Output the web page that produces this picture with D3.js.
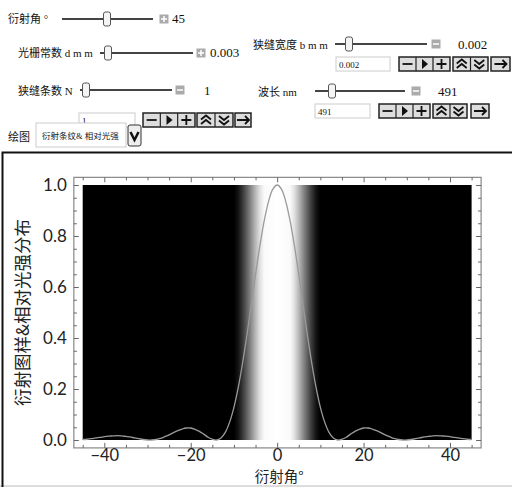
<!DOCTYPE html>
<html>
<head>
<meta charset="utf-8">
<script src="https://cdn.jsdelivr.net/npm/d3@7"></script>
<style>
  body { margin: 0; background: #fff; }
  svg { display: block; }
  .ctl { font-family: "Liberation Serif", "Noto Sans CJK SC", serif; font-size: 11px; fill: #111; }
  .tick text { font-family: Lato, "Open Sans", sans-serif; font-size: 17px; fill: #222; }
  .tick line { stroke: #666; }
</style>
</head>
<body>
<div id="chart"></div>
<script>
// diffraction angle (deg) and relative intensity
var angles = [-45,-44,-43,-42,-41,-40,-39,-38,-37,-36,-35,-34,-33,-32,-31,-30,-29,-28,-27,-26,-25,-24,-23,-22,-21,-20,-19,-18,-17,-16,-15,-14,-13,-12,-11,-10,-9,-8,-7,-6,-5,-4,-3,-2,-1,
  0,1,2,3,4,5,6,7,8,9,10,11,12,13,14,15,16,17,18,19,20,21,22,23,24,25,26,27,28,29,30,31,32,33,34,35,36,37,38,39,40,41,42,43,44,45];
var intensity = [0.002,0.003,0.005,0.008,0.010,0.013,0.015,0.016,0.017,0.016,0.014,0.012,0.008,0.005,0.002,0.000,0.000,0.002,0.006,0.013,0.020,0.029,0.037,0.043,0.047,0.047,0.042,0.034,0.023,0.011,0.003,0.000,0.008,0.030,0.070,0.128,0.206,0.302,0.411,0.529,0.649,0.761,0.859,0.935,0.984,
  1.000,0.984,0.935,0.859,0.761,0.649,0.529,0.411,0.302,0.206,0.128,0.070,0.030,0.008,0.000,0.003,0.011,0.023,0.034,0.042,0.047,0.047,0.043,0.037,0.029,0.020,0.013,0.006,0.002,0.000,0.000,0.002,0.005,0.008,0.012,0.014,0.016,0.017,0.016,0.015,0.013,0.010,0.008,0.005,0.003,0.002];

// brightness of the fringe pattern behind the curve
var bandAngles = [-45,-10,-9,-8,-7,-6,-5,-4,-3,0,3,4,5,6,7,8,9,10,45];
var bandGray   = [0,0,0.08,0.22,0.38,0.55,0.72,0.88,0.98,1,0.98,0.88,0.72,0.55,0.38,0.22,0.08,0,0];

var xMajor = [-40,-20,0,20,40];
var yMajor = [0,0.2,0.4,0.6,0.8,1.0];

var W = 512, H = 487;
var svg = d3.select("#chart").append("svg").attr("width", W).attr("height", H);
svg.append("rect").attr("width", W).attr("height", H).attr("fill", "#fff");

// ---------- control panel ----------
var ctl = svg.append("g");

function label(x, y, t, size) {
  ctl.append("text").attr("class", "ctl").attr("x", x).attr("y", y)
    .style("font-size", (size || 11) + "px").text(t);
}
function slider(x1, x2, y, tx) {
  ctl.append("line").attr("x1", x1).attr("x2", x2).attr("y1", y).attr("y2", y)
    .attr("stroke", "#444").attr("stroke-width", 1.8);
  ctl.append("rect").attr("x", tx - 3.5).attr("y", y - 7).attr("width", 7).attr("height", 14)
    .attr("rx", 2).attr("fill", "#f4f4f4").attr("stroke", "#555");
}
function icon(cx, cy, plus) {
  ctl.append("rect").attr("x", cx - 4.5).attr("y", cy - 4.5).attr("width", 9).attr("height", 9)
    .attr("fill", "#aaa");
  ctl.append("line").attr("x1", cx - 3).attr("x2", cx + 3).attr("y1", cy).attr("y2", cy)
    .attr("stroke", "#fff").attr("stroke-width", 1.5);
  if (plus) ctl.append("line").attr("x1", cx).attr("x2", cx).attr("y1", cy - 3).attr("y2", cy + 3)
    .attr("stroke", "#fff").attr("stroke-width", 1.5);
}
function inputBox(x1, x2, y, t) {
  ctl.append("rect").attr("x", x1).attr("y", y).attr("width", x2 - x1).attr("height", 14)
    .attr("fill", "#fff").attr("stroke", "#ccc");
  label(x1 + 3, y + 10.5, t, 9);
}
function glyph(g, kind, cx, cy) {
  var p = d3.path();
  if (kind == "minus") { p.moveTo(cx - 5, cy); p.lineTo(cx + 5, cy); }
  if (kind == "plus") { p.moveTo(cx - 5, cy); p.lineTo(cx + 5, cy); p.moveTo(cx, cy - 5); p.lineTo(cx, cy + 5); }
  if (kind == "up") { p.moveTo(cx - 5, cy - 0.5); p.lineTo(cx, cy - 4.5); p.lineTo(cx + 5, cy - 0.5);
                      p.moveTo(cx - 5, cy + 4); p.lineTo(cx, cy); p.lineTo(cx + 5, cy + 4); }
  if (kind == "down") { p.moveTo(cx - 5, cy - 4); p.lineTo(cx, cy); p.lineTo(cx + 5, cy - 4);
                        p.moveTo(cx - 5, cy + 0.5); p.lineTo(cx, cy + 4.5); p.lineTo(cx + 5, cy + 0.5); }
  if (kind == "arrow") { p.moveTo(cx - 6, cy); p.lineTo(cx + 6, cy); p.moveTo(cx + 2, cy - 4); p.lineTo(cx + 6, cy); p.lineTo(cx + 2, cy + 4); }
  if (kind == "play") {
    g.append("path").attr("d", "M" + (cx - 2.5) + "," + (cy - 5) + "L" + (cx + 3.5) + "," + cy + "L" + (cx - 2.5) + "," + (cy + 5) + "Z")
      .attr("fill", "#111");
    return;
  }
  g.append("path").attr("d", p.toString()).attr("fill", "none").attr("stroke", "#111").attr("stroke-width", 1.8);
}
function btnGroup(x1, x2, y, kinds) {
  var w = (x2 - x1) / kinds.length;
  ctl.append("rect").attr("x", x1).attr("y", y).attr("width", x2 - x1).attr("height", 14)
    .attr("fill", "#ddd").attr("stroke", "#222").attr("stroke-width", 1.5);
  kinds.forEach(function(k, i) {
    if (i > 0) ctl.append("line").attr("x1", x1 + i * w).attr("x2", x1 + i * w)
      .attr("y1", y).attr("y2", y + 14).attr("stroke", "#222").attr("stroke-width", 1.2);
    glyph(ctl, k, x1 + i * w + w / 2, y + 7);
  });
}
function buttons(xs, y) {
  btnGroup(xs[0], xs[1], y, ["minus", "play", "plus"]);
  btnGroup(xs[2], xs[3], y, ["up", "down"]);
  btnGroup(xs[4], xs[5], y, ["arrow"]);
}

label(8, 23, "衍射角  °");
slider(62, 153, 19, 107);
icon(164, 19, true);
label(172, 23, "45", 13);

label(18, 57, "光栅常数 d m m");
slider(100, 193, 53, 108);
icon(201, 53, true);
label(210, 57, "0.003", 13);

label(253, 49, "狭缝宽度 b m m");
slider(335, 427, 44, 349);
icon(436, 44, false);
label(458, 49, "0.002", 13);
inputBox(336, 390, 57, "0.002");
buttons([399, 450, 453, 488, 491, 510], 57);

label(18, 95, "狭缝条数 N");
slider(80, 172, 90, 86);
icon(180, 90, false);
label(204, 95, "1", 13);
inputBox(79, 135, 113, "1");
buttons([143, 195, 197, 233, 235, 251], 113);

label(258, 96, "波长   nm");
slider(315, 405, 91, 332);
icon(416, 91, false);
label(438, 96, "491", 13);
inputBox(315, 370, 104, "491");
buttons([379, 430, 433, 467, 471, 489], 104);

label(8, 141, "绘图");
ctl.append("rect").attr("x", 36).attr("y", 123).attr("width", 90).attr("height", 24)
  .attr("fill", "#fff").attr("stroke", "#ccc");
label(42, 139, "衍射条纹& 相对光强", 8.5);
ctl.append("rect").attr("x", 128).attr("y", 125).attr("width", 13).attr("height", 21).attr("rx", 2)
  .attr("fill", "#eee").attr("stroke", "#333");
ctl.append("path").attr("d", "M130.5,132L134.5,140L138.5,132").attr("fill", "none")
  .attr("stroke", "#111").attr("stroke-width", 2.5);

// ---------- chart panel ----------
svg.append("line").attr("x1", 0).attr("x2", W).attr("y1", 486).attr("y2", 486).attr("stroke", "#bbb");
svg.append("path").attr("d", "M2.5,487V152.5H" + W).attr("fill", "none").attr("stroke", "#111").attr("stroke-width", 2);

var x = d3.scaleLinear().domain([-45, 45]).range([82.7, 471.6]);
var y = d3.scaleLinear().domain([0, 1]).range([440, 185]);
var fx0 = x(-47.05), fx1 = x(47.2), fy0 = y(-0.031), fy1 = y(1.03);

var defs = svg.append("defs");
var grad = defs.append("linearGradient").attr("id", "fringe")
  .attr("gradientUnits", "userSpaceOnUse")
  .attr("x1", x(-45)).attr("x2", x(45)).attr("y1", 0).attr("y2", 0);
bandAngles.forEach(function(a, i) {
  grad.append("stop").attr("offset", (a + 45) / 90)
    .attr("stop-color", d3.rgb(255 * bandGray[i], 255 * bandGray[i], 255 * bandGray[i]));
});

svg.append("rect").attr("x", x(-45)).attr("y", y(1)).attr("width", x(45) - x(-45)).attr("height", y(0) - y(1))
  .attr("fill", "url(#fringe)");

var pts = angles.map(function(a, i) { return [a, intensity[i]]; });
var line = d3.line().x(function(d) { return x(d[0]); }).y(function(d) { return y(d[1]); })
  .curve(d3.curveCatmullRom.alpha(0.5));
svg.append("path").datum(pts).attr("d", line).attr("fill", "none")
  .attr("stroke", "#9a9a9a").attr("stroke-width", 1.3);

// frame
svg.append("rect").attr("x", fx0).attr("y", fy1).attr("width", fx1 - fx0).attr("height", fy0 - fy1)
  .attr("fill", "none").attr("stroke", "#888").attr("stroke-width", 1.2);

var xMinor = d3.range(-45, 46, 5).filter(function(v) { return xMajor.indexOf(v) < 0; });
var yMinor = d3.range(0, 1.01, 0.05).filter(function(v) { return yMajor.every(function(m) { return Math.abs(m - v) > 1e-6; }); });

function noDomain(g) { g.select(".domain").remove(); }

svg.append("g").attr("transform", "translate(0," + fy0 + ")")
  .call(d3.axisBottom(x).tickValues(xMajor).tickSize(-5).tickPadding(1).tickFormat(d3.format("d")))
  .call(noDomain)
  .selectAll("text").style("font-size", "16.5px");
svg.append("g").attr("transform", "translate(0," + fy0 + ")")
  .call(d3.axisBottom(x).tickValues(xMinor).tickSize(-3).tickFormat("")).call(noDomain);
svg.append("g").attr("transform", "translate(0," + fy1 + ")")
  .call(d3.axisTop(x).tickValues(xMajor).tickSize(-5).tickFormat("")).call(noDomain);
svg.append("g").attr("transform", "translate(0," + fy1 + ")")
  .call(d3.axisTop(x).tickValues(xMinor).tickSize(-3).tickFormat("")).call(noDomain);

svg.append("g").attr("transform", "translate(" + fx0 + ",0)")
  .call(d3.axisLeft(y).tickValues(yMajor).tickSize(-5).tickPadding(7).tickFormat(d3.format(".1f")))
  .call(noDomain);
svg.append("g").attr("transform", "translate(" + fx0 + ",0)")
  .call(d3.axisLeft(y).tickValues(yMinor).tickSize(-3).tickFormat("")).call(noDomain);
svg.append("g").attr("transform", "translate(" + fx1 + ",0)")
  .call(d3.axisRight(y).tickValues(yMajor).tickSize(-5).tickFormat("")).call(noDomain);
svg.append("g").attr("transform", "translate(" + fx1 + ",0)")
  .call(d3.axisRight(y).tickValues(yMinor).tickSize(-3).tickFormat("")).call(noDomain);

svg.selectAll(".tick text").style("fill", "#222");

// axis titles
svg.append("text").attr("transform", "translate(29," + ((y(0) + y(1)) / 2) + ") rotate(-90)")
  .attr("text-anchor", "middle").style("font-family", "'Noto Sans CJK SC'").style("font-size", "17.5px")
  .style("fill", "#222").text("衍射图样&相对光强分布");
svg.append("text").attr("x", x(0) + 2).attr("y", 482).attr("text-anchor", "middle")
  .style("font-family", "'Noto Sans CJK SC'").style("font-size", "14.5px").style("fill", "#222")
  .text("衍射角°");
</script>
</body>
</html>
